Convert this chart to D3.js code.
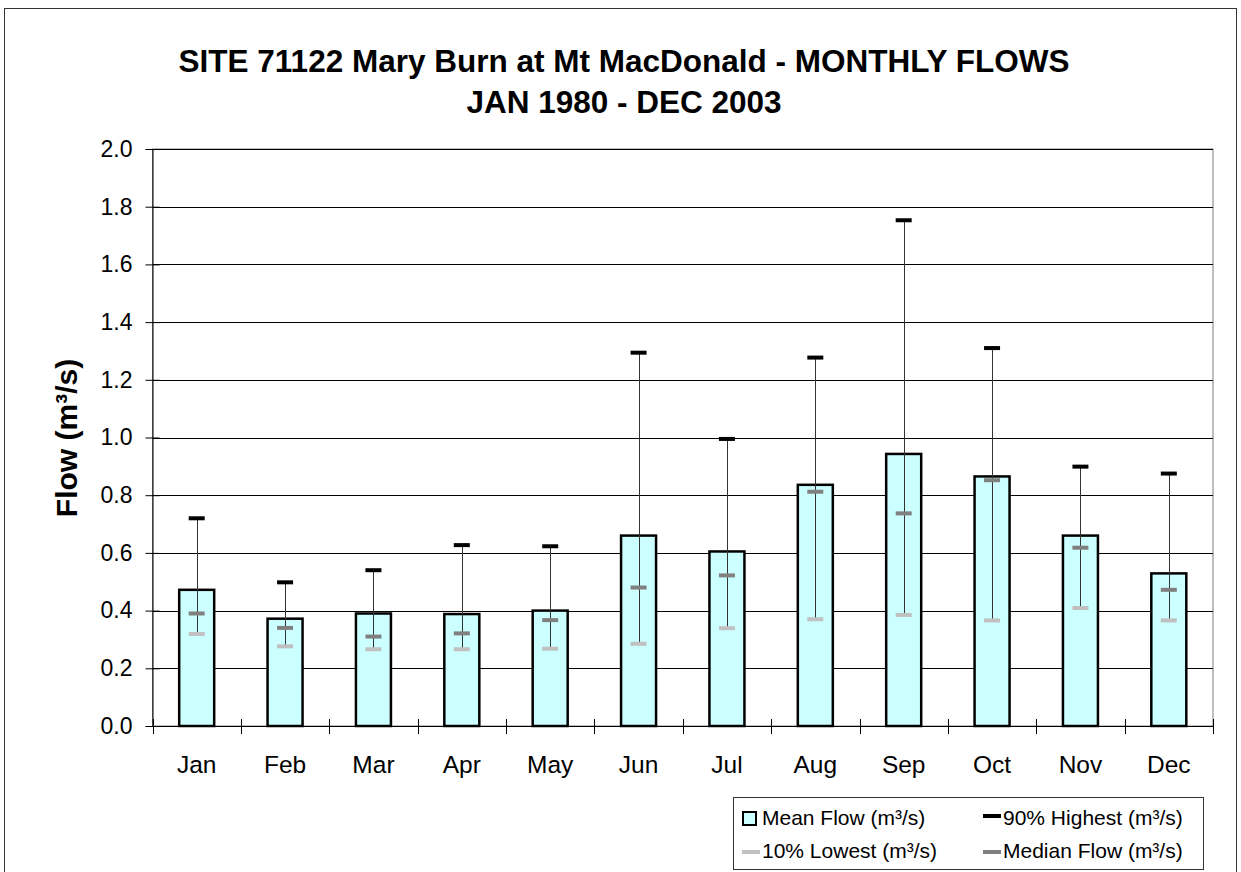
<!DOCTYPE html>
<html>
<head>
<meta charset="utf-8">
<script src="https://cdn.jsdelivr.net/npm/d3@7"></script>
<style>
  body { margin: 0; background: #fff; }
  text { font-family: "Liberation Sans", Arial, sans-serif; }
</style>
</head>
<body>
<div id="chart"></div>
<script>
var width = 1241;
var height = 872;

var months = ['Jan','Feb','Mar','Apr','May','Jun','Jul','Aug','Sep','Oct','Nov','Dec'];
var meanFlow   = [0.472, 0.372, 0.390, 0.388, 0.400, 0.660, 0.605, 0.836, 0.943, 0.865, 0.660, 0.529];
var highFlow   = [0.720, 0.498, 0.540, 0.627, 0.623, 1.294, 0.995, 1.277, 1.753, 1.310, 0.899, 0.875];
var medianFlow = [0.390, 0.340, 0.310, 0.321, 0.367, 0.480, 0.522, 0.812, 0.737, 0.852, 0.618, 0.472];
var lowFlow    = [0.319, 0.276, 0.266, 0.266, 0.268, 0.285, 0.339, 0.370, 0.385, 0.366, 0.409, 0.366];
var yTicks = [0, 0.2, 0.4, 0.6, 0.8, 1.0, 1.2, 1.4, 1.6, 1.8, 2.0];

var plotLeft = 152.5, plotRight = 1213, plotTop = 149, plotBottom = 726;

var svg = d3.select('#chart')
	.append('svg')
	.attr('width', width)
	.attr('height', height)
	.style('background-color', '#fff');

// chart frame
svg.append('rect')
	.attr('x', 4.5).attr('y', 8.5)
	.attr('width', 1232).attr('height', 900)
	.attr('fill', 'none').attr('stroke', '#333').attr('stroke-width', 1);

var x = d3.scaleBand()
	.domain(months)
	.range([plotLeft, plotRight]);

var y = d3.scaleLinear()
	.domain([0, 2])
	.range([plotBottom, plotTop]);

// plot area border
svg.append('rect')
	.attr('x', plotLeft).attr('y', plotTop)
	.attr('width', plotRight - plotLeft).attr('height', plotBottom - plotTop)
	.attr('fill', 'none').attr('stroke', '#808080');

// gridlines
svg.append('g')
	.selectAll('line')
	.data(yTicks)
	.enter()
	.append('line')
	.attr('x1', plotLeft).attr('x2', plotRight)
	.attr('y1', function(d) { return Math.round(y(d)) + 0.5; })
	.attr('y2', function(d) { return Math.round(y(d)) + 0.5; })
	.attr('stroke', '#000').attr('stroke-width', 1);

// Y axis
var yAxis = d3.axisLeft(y)
	.tickValues(yTicks)
	.tickSize(7)
	.tickFormat(d3.format('.1f'));

var yAxisGroup = svg.append('g')
	.attr('transform', 'translate(' + plotLeft + ',0)')
	.call(yAxis);
yAxisGroup.select('.domain').attr('stroke', '#000');
yAxisGroup.selectAll('.tick line')
	.attr('x1', 7).attr('x2', -7).attr('stroke', '#000');
yAxisGroup.selectAll('.tick text')
	.style('font-size', '23px').style('fill', '#000')
	.attr('x', -20);

// X axis
var xAxis = d3.axisBottom(x).tickSize(0);
var xAxisGroup = svg.append('g')
	.attr('transform', 'translate(0,' + plotBottom + ')')
	.call(xAxis);
xAxisGroup.select('.domain').attr('stroke', '#000').attr('d', 'M' + plotLeft + ',0.5H' + plotRight);
xAxisGroup.selectAll('.tick text')
	.attr('y', 47).attr('dy', 0)
	.style('font-size', '24.5px').style('fill', '#000');

// category boundary ticks (cross)
svg.append('g')
	.selectAll('line')
	.data(months.concat(['end']))
	.enter()
	.append('line')
	.attr('x1', function(d, i) { return Math.round(plotLeft + i * x.step()) + 0.5; })
	.attr('x2', function(d, i) { return Math.round(plotLeft + i * x.step()) + 0.5; })
	.attr('y1', plotBottom - 7).attr('y2', plotBottom + 8)
	.attr('stroke', '#000');

// bars
var barW = 35;
svg.selectAll('.bar')
	.data(meanFlow)
	.enter()
	.append('rect')
	.attr('class', 'bar')
	.attr('x', function(d, i) { return x(months[i]) + x.bandwidth() / 2 - barW / 2; })
	.attr('y', function(d) { return y(d); })
	.attr('width', barW)
	.attr('height', function(d) { return y(0) - y(d); })
	.attr('fill', '#ccffff')
	.attr('stroke', '#000')
	.attr('stroke-width', 2.5);

// high-low lines
svg.selectAll('.hl')
	.data(highFlow)
	.enter()
	.append('line')
	.attr('class', 'hl')
	.attr('x1', function(d, i) { return Math.round(x(months[i]) + x.bandwidth() / 2) + 0.5; })
	.attr('x2', function(d, i) { return Math.round(x(months[i]) + x.bandwidth() / 2) + 0.5; })
	.attr('y1', function(d) { return y(d); })
	.attr('y2', function(d, i) { return y(lowFlow[i]); })
	.attr('stroke', '#333')
	.attr('stroke-width', 1);

// caps
function caps(values, colour) {
	svg.append('g')
		.selectAll('rect')
		.data(values)
		.enter()
		.append('rect')
		.attr('x', function(d, i) { return x(months[i]) + x.bandwidth() / 2 - 8; })
		.attr('y', function(d) { return y(d) - 2; })
		.attr('width', 16)
		.attr('height', 4)
		.attr('fill', colour);
}
caps(lowFlow, '#c0c0c0');
caps(medianFlow, '#808080');
caps(highFlow, '#000');

// title
svg.append('text')
	.attr('x', 624).attr('y', 72)
	.attr('text-anchor', 'middle')
	.style('font-size', '31.5px').style('font-weight', 'bold')
	.text('SITE 71122 Mary Burn at Mt MacDonald - MONTHLY FLOWS');
svg.append('text')
	.attr('x', 624).attr('y', 113)
	.attr('text-anchor', 'middle')
	.style('font-size', '31.5px').style('font-weight', 'bold')
	.text('JAN 1980 - DEC 2003');

// y label
svg.append('text')
	.attr('transform', 'translate(77,438) rotate(-90)')
	.attr('text-anchor', 'middle')
	.style('font-size', '30px').style('font-weight', 'bold')
	.text('Flow (m³/s)');

// legend
var legend = svg.append('g');
legend.append('rect')
	.attr('x', 733.5).attr('y', 797.5)
	.attr('width', 470).attr('height', 72)
	.attr('fill', '#fff').attr('stroke', '#333');

var legendItems = [
	{ label: 'Mean Flow (m³/s)', type: 'box', colour: '#ccffff', lx: 742, ly: 818 },
	{ label: '90% Highest (m³/s)', type: 'dash', colour: '#000', lx: 983, ly: 816 },
	{ label: '10% Lowest (m³/s)', type: 'dash', colour: '#c0c0c0', lx: 742, ly: 852 },
	{ label: 'Median Flow (m³/s)', type: 'dash', colour: '#808080', lx: 983, ly: 852 }
];
legendItems.forEach(function(d, i) {
	if (d.type === 'box') {
		legend.append('rect')
			.attr('x', d.lx + 1).attr('y', d.ly - 6)
			.attr('width', 13).attr('height', 13)
			.attr('fill', d.colour).attr('stroke', '#000').attr('stroke-width', 2);
	} else {
		legend.append('rect')
			.attr('x', d.lx).attr('y', d.ly - 2)
			.attr('width', 18).attr('height', 4)
			.attr('fill', d.colour);
	}
	legend.append('text')
		.attr('x', d.lx + 20).attr('y', i < 2 ? 825 : 858)
		.style('font-size', '21px')
		.text(d.label);
});
</script>
</body>
</html>
